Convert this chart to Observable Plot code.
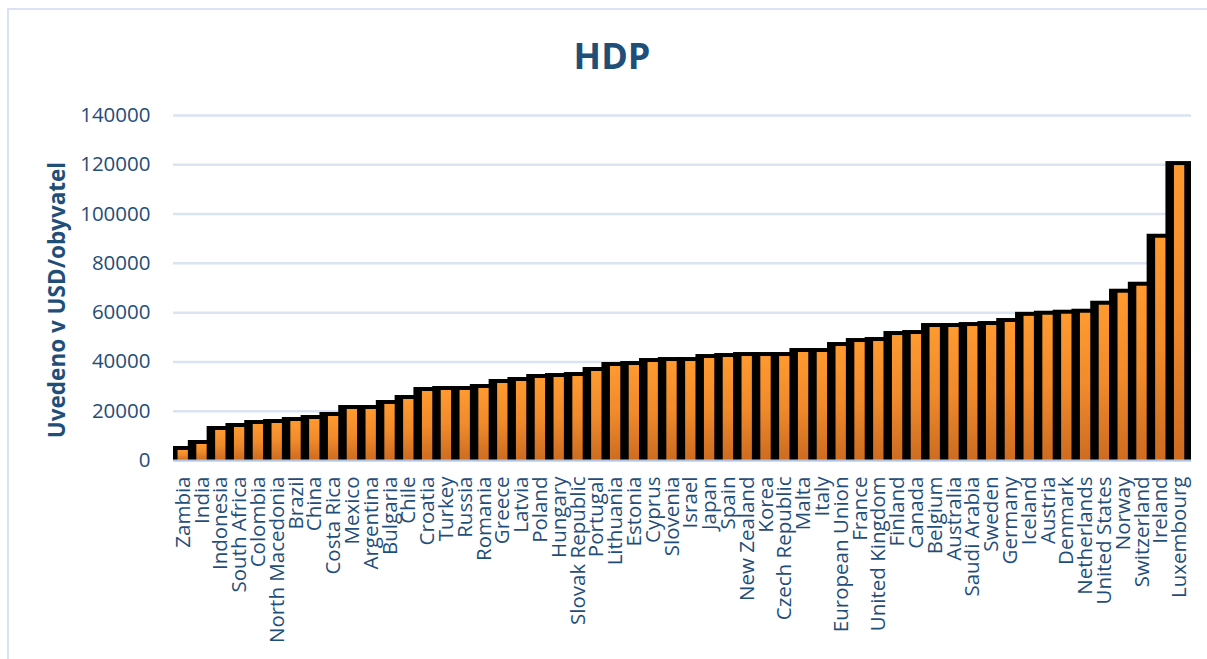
<!DOCTYPE html>
<html><head><meta charset="utf-8">
<script src="https://cdn.jsdelivr.net/npm/d3@7"></script>
<script src="https://cdn.jsdelivr.net/npm/@observablehq/plot@0.6"></script>
<style>
html,body{margin:0;padding:0;background:#fff;overflow:hidden;}
body{width:1207px;height:659px;position:relative;font-family:"Open Sans",sans-serif;}
#frame{position:absolute;left:7px;top:8px;width:1210px;height:660px;border:2px solid #dae3f3;box-sizing:border-box;}
#title{position:absolute;left:0;top:0;width:1207px;height:90px;}
#title span{position:absolute;left:0;width:1224px;text-align:center;top:38px;line-height:36px;font-size:36px;font-weight:700;color:#1f4e79;font-family:"Open Sans",sans-serif;}
#chart{position:absolute;left:0;top:90px;}
</style></head><body>
<div id="frame"></div>
<div id="title"><span>HDP</span></div>
<div id="chart"></div>
<script>
const countries = ["Zambia","India","Indonesia","South Africa","Colombia","North Macedonia","Brazil","China","Costa Rica","Mexico","Argentina","Bulgaria","Chile","Croatia","Turkey","Russia","Romania","Greece","Latvia","Poland","Hungary","Slovak Republic","Portugal","Lithuania","Estonia","Cyprus","Slovenia","Israel","Japan","Spain","New Zealand","Korea","Czech Republic","Malta","Italy","European Union","France","United Kingdom","Finland","Canada","Belgium","Australia","Saudi Arabia","Sweden","Germany","Iceland","Austria","Denmark","Netherlands","United States","Norway","Switzerland","Ireland","Luxembourg"];
const gdp = [4060,6490,12170,13390,14600,15010,15820,16630,17850,20690,20690,22720,24750,27990,28400,28400,29210,31240,32050,33270,33670,34080,36110,38140,38540,39760,40160,40160,41380,41790,42190,42190,42190,43820,43820,46250,47870,48280,50710,51120,53960,53960,54360,54770,55990,58500,58950,59360,59760,63010,67880,70720,90190,119680];
const yTicks = [0,20000,40000,60000,80000,100000,120000,140000];
const yLabel = "Uvedeno v USD/obyvatel";

const data = countries.map((c,i)=>({country:c, value:gdp[i]}));

const chart = Plot.plot({
  width:1207, height:569,
  marginLeft:173, marginRight:16, marginTop:25, marginBottom:199,
  style:{fontFamily:"'Open Sans', sans-serif", fontSize:"20.5px", color:"#1f4e79", background:"transparent", overflow:"visible"},
  x:{type:"band", domain:countries, range:[173.3,1188.5], paddingInner:0.45, paddingOuter:0.225},
  y:{domain:[0,140000]},
  marks:[
    Plot.gridY(yTicks, {stroke:"#d9e3f2", strokeOpacity:1, strokeWidth:2.5}),
    Plot.barY(data, {x:"country", y:"value", fill:"#000", insetLeft:-8.5, insetRight:-7, insetTop:-4, clip:"frame"}),
    Plot.barY(data, {x:"country", y:"value", fill:"url(#og)"}),
    Plot.ruleY([0], {stroke:"#b4c7e7", strokeWidth:2}),
    Plot.axisY(yTicks, {tickSize:0, tickPadding:23, tickFormat:d=>String(d), label:null}),
    Plot.axisX({tickSize:0, tickPadding:16, tickRotate:-90, label:null}),
    Plot.text([yLabel], {frameAnchor:"left", dx:-116, dy:12, rotate:-90, text:d=>d, fontWeight:"bold", fontSize:22.5, fill:"#1f4e79", textAnchor:"middle"})
  ]
});
chart.insertAdjacentHTML("afterbegin", `<defs><linearGradient id="og" x1="0" y1="0" x2="0" y2="1"><stop offset="0" stop-color="#ff9a30"/><stop offset="0.5" stop-color="#f08a2b"/><stop offset="1" stop-color="#cd6c21"/></linearGradient></defs>`);
document.getElementById("chart").appendChild(chart);
</script>
</body></html>
